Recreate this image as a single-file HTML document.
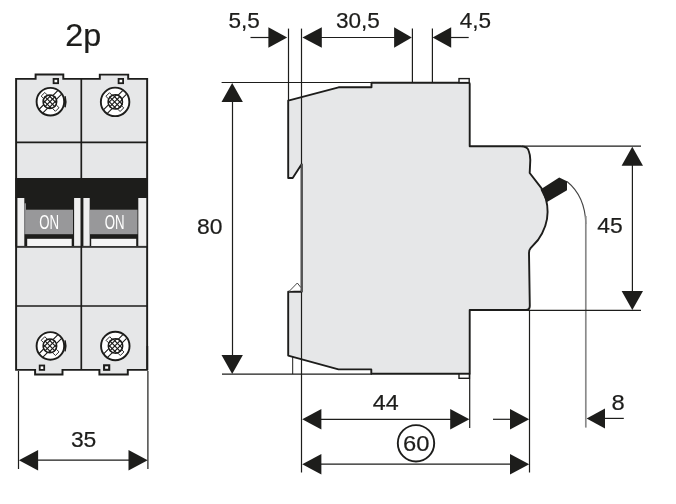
<!DOCTYPE html>
<html><head><meta charset="utf-8"><title>2p dimensions</title>
<style>
html,body{margin:0;padding:0;background:#fff;}
svg{display:block;}
text{font-family:"Liberation Sans",Arial,Helvetica,sans-serif;stroke-width:0.2px;}
svg{will-change:transform;}
</style></head><body>
<svg width="676" height="504" viewBox="0 0 676 504">
<defs>
<clipPath id="ring"><path d="M0,-13.6 A13.6,13.6 0 1 1 0,13.6 A13.6,13.6 0 1 1 0,-13.6 Z M-0.4,-7.3 A7.3,7.3 0 1 0 -0.4,7.3 A7.3,7.3 0 1 0 -0.4,-7.3 Z" clip-rule="evenodd"/></clipPath>
<clipPath id="inner"><circle cx="-0.5" r="7.3"/></clipPath>
<clipPath id="inner2"><circle cx="0.2" r="7.7"/></clipPath>
</defs>
<rect width="676" height="504" fill="#fff"/>

<text transform="translate(65.24,45.7) scale(1.03,1)" font-size="31.4" fill="#1d1d1b" stroke="#1d1d1b">2p</text>
<path d="M16.1,78.85 L35.6,78.85 L35.6,74.5 L63.3,74.5 L63.3,78.85 L99.8,78.85 L99.8,74.6 L128.2,74.6 L128.2,78.85 L147.15,78.85 L147.15,369.85 L127.8,369.85 L127.8,374.5 L99.4,374.5 L99.4,369.85 L62.5,369.85 L62.5,374.5 L35.1,374.5 L35.1,369.85 L16.1,369.85 Z" fill="#e6e7e8" stroke="#1d1d1b" stroke-width="1.95" stroke-linejoin="miter"/>
<path d="M147.4,346 L147.4,370" stroke="#1d1d1b" stroke-width="1.6" fill="none"/>
<path d="M81.3,78.85 L81.3,369.85" stroke="#1d1d1b" stroke-width="1.7" fill="none"/>
<path d="M16.1,142.3 L147.15,142.3" stroke="#1d1d1b" stroke-width="1.7" fill="none"/>
<path d="M16.1,247 L147.15,247" stroke="#1d1d1b" stroke-width="1.7" fill="none"/>
<path d="M16.1,306 L147.15,306" stroke="#1d1d1b" stroke-width="1.7" fill="none"/>
<rect x="15.400000000000002" y="178" width="132.45000000000002" height="20" fill="#1d1d1b"/>
<rect x="15.400000000000002" y="197" width="132.45000000000002" height="49.5" fill="#1d1d1b"/>
<rect x="17.4" y="198" width="6.90" height="47.9" fill="#efefef"/>
<rect x="74.1" y="198" width="6.40" height="47.9" fill="#efefef"/>
<rect x="83.4" y="198" width="6.30" height="47.9" fill="#efefef"/>
<rect x="138.3" y="198" width="8.00" height="47.9" fill="#efefef"/>
<rect x="25.9" y="209.7" width="47.10" height="24.5" fill="#98989a"/>
<rect x="27.2" y="238.8" width="44.50" height="7.2" fill="#f4f4f4"/>
<text transform="translate(49.2,228.5) scale(0.68,1)" font-size="19.5" text-anchor="middle" fill="#fff">ON</text>
<rect x="89.9" y="209.7" width="47.60" height="24.5" fill="#98989a"/>
<rect x="91.2" y="238.8" width="45.00" height="7.2" fill="#f4f4f4"/>
<text transform="translate(114.7,228.5) scale(0.68,1)" font-size="19.5" text-anchor="middle" fill="#fff">ON</text>
<rect x="24.3" y="203.3" width="1.7" height="30.9" fill="#8e8e90"/>
<rect x="53.6" y="78.9" width="4.5" height="4.3" fill="#fff" stroke="#1d1d1b" stroke-width="1.8"/>
<rect x="118.6" y="78.9" width="4.5" height="4.3" fill="#fff" stroke="#1d1d1b" stroke-width="1.8"/>
<rect x="39.7" y="365.5" width="4.5" height="4.4" fill="#fff" stroke="#1d1d1b" stroke-width="1.8"/>
<rect x="104.1" y="365.3" width="5.1" height="4.5" fill="#fff" stroke="#1d1d1b" stroke-width="2.1"/>
<g transform="translate(50.4,101.7)"><circle r="13.8" fill="#fff" stroke="#1d1d1b" stroke-width="1.9"/><path d="M14.6,-5.5 Q16.2,0 14.6,5.5" fill="none" stroke="#1d1d1b" stroke-width="1.6"/><g clip-path="url(#ring)" stroke="#1d1d1b" stroke-width="1.1" fill="none"><path d="M-20,16.3 L16.3,-20 M-16.3,20 L20,-16.3"/></g><g stroke="#2a2a2a" stroke-width="1" fill="none"><path d="M-6.8,-3.2 L-9.2,-5.6 L-5.6,-9.2 L-3.2,-6.8"/><path d="M6.2,3.6 L8.6,6 L5,9.6 L2.6,7.2"/></g><circle cx="-0.5" r="6.8" fill="#fff" stroke="#1d1d1b" stroke-width="1.5"/><g clip-path="url(#inner)" stroke="#1d1d1b" stroke-width="1.15" fill="none"><path d="M-22.9,-12 L1.0999999999999996,12 M-22.9,12 L1.0999999999999996,-12"/><path d="M-17.7,-12 L6.3,12 M-17.7,12 L6.3,-12"/><path d="M-12.5,-12 L11.5,12 M-12.5,12 L11.5,-12"/><path d="M-7.3,-12 L16.7,12 M-7.3,12 L16.7,-12"/><path d="M-2.0999999999999996,-12 L21.9,12 M-2.0999999999999996,12 L21.9,-12"/></g></g>
<g transform="translate(50.4,345.9)"><circle r="13.8" fill="#fff" stroke="#1d1d1b" stroke-width="1.9"/><path d="M14.6,-5.5 Q16.2,0 14.6,5.5" fill="none" stroke="#1d1d1b" stroke-width="1.6"/><g clip-path="url(#ring)" stroke="#1d1d1b" stroke-width="1.1" fill="none"><path d="M-20,16.3 L16.3,-20 M-16.3,20 L20,-16.3"/></g><g stroke="#2a2a2a" stroke-width="1" fill="none"><path d="M-6.8,-3.2 L-9.2,-5.6 L-5.6,-9.2 L-3.2,-6.8"/><path d="M6.2,3.6 L8.6,6 L5,9.6 L2.6,7.2"/></g><circle cx="-0.5" r="6.8" fill="#fff" stroke="#1d1d1b" stroke-width="1.5"/><g clip-path="url(#inner)" stroke="#1d1d1b" stroke-width="1.15" fill="none"><path d="M-22.9,-12 L1.0999999999999996,12 M-22.9,12 L1.0999999999999996,-12"/><path d="M-17.7,-12 L6.3,12 M-17.7,12 L6.3,-12"/><path d="M-12.5,-12 L11.5,12 M-12.5,12 L11.5,-12"/><path d="M-7.3,-12 L16.7,12 M-7.3,12 L16.7,-12"/><path d="M-2.0999999999999996,-12 L21.9,12 M-2.0999999999999996,12 L21.9,-12"/></g></g>
<g transform="translate(115.1,101.9)"><circle r="14.25" fill="#fff" stroke="#1d1d1b" stroke-width="1.9"/><g clip-path="url(#ring)" stroke="#1d1d1b" stroke-width="1.1" fill="none"><path d="M-20,16.3 L16.3,-20 M-16.3,20 L20,-16.3"/></g><g stroke="#2a2a2a" stroke-width="1" fill="none"><path d="M-6.8,-3.2 L-9.2,-5.6 L-5.6,-9.2 L-3.2,-6.8"/><path d="M6.2,3.6 L8.6,6 L5,9.6 L2.6,7.2"/></g><circle cx="0.2" r="7.2" fill="#fff" stroke="#1d1d1b" stroke-width="1.5"/><g clip-path="url(#inner2)" stroke="#1d1d1b" stroke-width="1.15" fill="none"><path d="M-22.9,-12 L1.0999999999999996,12 M-22.9,12 L1.0999999999999996,-12"/><path d="M-17.7,-12 L6.3,12 M-17.7,12 L6.3,-12"/><path d="M-12.5,-12 L11.5,12 M-12.5,12 L11.5,-12"/><path d="M-7.3,-12 L16.7,12 M-7.3,12 L16.7,-12"/><path d="M-2.0999999999999996,-12 L21.9,12 M-2.0999999999999996,12 L21.9,-12"/></g></g>
<g transform="translate(115.3,345.95)"><circle r="14.25" fill="#fff" stroke="#1d1d1b" stroke-width="1.9"/><g clip-path="url(#ring)" stroke="#1d1d1b" stroke-width="1.1" fill="none"><path d="M-20,16.3 L16.3,-20 M-16.3,20 L20,-16.3"/></g><g stroke="#2a2a2a" stroke-width="1" fill="none"><path d="M-6.8,-3.2 L-9.2,-5.6 L-5.6,-9.2 L-3.2,-6.8"/><path d="M6.2,3.6 L8.6,6 L5,9.6 L2.6,7.2"/></g><circle cx="0.2" r="7.2" fill="#fff" stroke="#1d1d1b" stroke-width="1.5"/><g clip-path="url(#inner2)" stroke="#1d1d1b" stroke-width="1.15" fill="none"><path d="M-22.9,-12 L1.0999999999999996,12 M-22.9,12 L1.0999999999999996,-12"/><path d="M-17.7,-12 L6.3,12 M-17.7,12 L6.3,-12"/><path d="M-12.5,-12 L11.5,12 M-12.5,12 L11.5,-12"/><path d="M-7.3,-12 L16.7,12 M-7.3,12 L16.7,-12"/><path d="M-2.0999999999999996,-12 L21.9,12 M-2.0999999999999996,12 L21.9,-12"/></g></g>
<path d="M18.5,371 L18.5,469" stroke="#1d1d1b" stroke-width="1.2" fill="none"/>
<path d="M147.9,371 L147.9,469" stroke="#1d1d1b" stroke-width="1.2" fill="none"/>
<path d="M30,460.2 L136,460.2" stroke="#1d1d1b" stroke-width="1.2" fill="none"/>
<path d="M18.9,460.2 L38.099999999999994,449.9 L38.099999999999994,470.5 Z" fill="#1d1d1b"/>
<path d="M147.7,460.2 L128.5,449.9 L128.5,470.5 Z" fill="#1d1d1b"/>
<text transform="translate(70.90,446.7) scale(1.04,1)" font-size="22" fill="#1d1d1b" stroke="#1d1d1b">35</text>
<path d="M301.6,164.2 L292.7,178 L288.2,178 L288.2,100.6 L338.6,87.3 L371.5,87.3 L371.5,82.7 L468.7,82.7 Q469.7,82.7 469.7,83.7 L469.7,146.2 L521,146.2 Q527.5,146.4 528.6,150.5 Q530.3,155 530.3,160 L529.7,173 L541.2,187.8 C545.5,195 547.6,203 547.6,212 C547.6,222 543.6,232 538,240 L530.6,248.2 Q529,250 529,253 L529.8,306 Q529.8,310 526,310 L469.7,310 L469.7,373.8 L371.3,373.8 L371.3,369.4 L338.5,369.4 L288.2,355.6 L288.2,291.8 L301.6,291.8 Z" fill="#e6e7e8" stroke="#1d1d1b" stroke-width="1.9" stroke-linejoin="round"/>
<path d="M289,291.5 L297.3,283 L301.3,288" fill="#fff" stroke="#333" stroke-width="0.9"/>
<rect x="459" y="78.6" width="10.2" height="4" fill="#fff" stroke="#1d1d1b" stroke-width="1.4"/>
<rect x="459" y="374" width="10.4" height="4.3" fill="#fff" stroke="#1d1d1b" stroke-width="1.4"/>
<path d="M301.9,164 L301.9,292" stroke="#555" stroke-width="2" fill="none"/>
<path d="M540.5,189.6 L559.2,177.5 L567,181.2 L567,190.2 L546.6,202.2 Z" fill="#1d1d1b"/>
<path d="M567,181.5 C575,188 585.3,200 585.8,224" fill="none" stroke="#444" stroke-width="1.1"/>
<path d="M585.8,216 L585.8,427.6" stroke="#8a8a8a" stroke-width="1.7" fill="none"/>
<path d="M288.5,28.6 L288.5,100" stroke="#1d1d1b" stroke-width="1.2" fill="none"/>
<path d="M301.5,28.6 L301.5,164" stroke="#1d1d1b" stroke-width="1.2" fill="none"/>
<path d="M301.5,292 L301.5,472.5" stroke="#1d1d1b" stroke-width="1.2" fill="none"/>
<path d="M412.4,28.6 L412.4,82" stroke="#1d1d1b" stroke-width="1.2" fill="none"/>
<path d="M432.4,28.6 L432.4,82" stroke="#1d1d1b" stroke-width="1.2" fill="none"/>
<path d="M250.5,37.5 L270,37.5" stroke="#1d1d1b" stroke-width="1.2" fill="none"/>
<path d="M287.2,37.5 L268.4,27.2 L268.4,47.8 Z" fill="#1d1d1b"/>
<path d="M302.4,37.5 L321.79999999999995,27.2 L321.79999999999995,47.8 Z" fill="#1d1d1b"/>
<path d="M320,37.5 L395,37.5" stroke="#1d1d1b" stroke-width="1.2" fill="none"/>
<path d="M411.8,37.5 L394.1,27.2 L394.1,47.8 Z" fill="#1d1d1b"/>
<path d="M432.6,37.5 L451.20000000000005,27.2 L451.20000000000005,47.8 Z" fill="#1d1d1b"/>
<path d="M450,37.5 L468.7,37.5" stroke="#1d1d1b" stroke-width="1.2" fill="none"/>
<text transform="translate(228.47,28.2) scale(1.04,1)" font-size="21.7" fill="#1d1d1b" stroke="#1d1d1b">5,5</text>
<text transform="translate(335.91,28.3) scale(1.04,1)" font-size="21.7" fill="#1d1d1b" stroke="#1d1d1b">30,5</text>
<text transform="translate(459.69,28.3) scale(1.04,1)" font-size="21.7" fill="#1d1d1b" stroke="#1d1d1b">4,5</text>
<path d="M221.6,82.5 L372,82.5" stroke="#1d1d1b" stroke-width="1.2" fill="none"/>
<path d="M222,374.1 L372,374.1" stroke="#1d1d1b" stroke-width="1.2" fill="none"/>
<path d="M292.7,357 L292.7,374.1" stroke="#1d1d1b" stroke-width="1" fill="none"/>
<path d="M232.5,100 L232.5,357" stroke="#1d1d1b" stroke-width="1.2" fill="none"/>
<path d="M232.2,83 L221.5,102 L242.89999999999998,102 Z" fill="#1d1d1b"/>
<path d="M232.2,374 L221.5,355 L242.89999999999998,355 Z" fill="#1d1d1b"/>
<text transform="translate(197.10,233.5) scale(1.04,1)" font-size="22" fill="#1d1d1b" stroke="#1d1d1b">80</text>
<path d="M522,146.2 L641,146.2" stroke="#1d1d1b" stroke-width="1.2" fill="none"/>
<path d="M526,310.4 L641,310.4" stroke="#1d1d1b" stroke-width="1.2" fill="none"/>
<path d="M632.4,163 L632.4,293" stroke="#1d1d1b" stroke-width="1.2" fill="none"/>
<path d="M632.3,146.8 L621.5999999999999,165.8 L643.0,165.8 Z" fill="#1d1d1b"/>
<path d="M632.3,310 L621.5999999999999,291 L643.0,291 Z" fill="#1d1d1b"/>
<text transform="translate(597.33,233.2) scale(1.04,1)" font-size="22" fill="#1d1d1b" stroke="#1d1d1b">45</text>
<path d="M469.7,373.8 L469.7,428" stroke="#1d1d1b" stroke-width="1.2" fill="none"/>
<path d="M529.5,310 L529.5,472.5" stroke="#1d1d1b" stroke-width="1.2" fill="none"/>
<path d="M320,419.3 L452,419.3" stroke="#1d1d1b" stroke-width="1.2" fill="none"/>
<path d="M302.2,419.3 L321.4,409.0 L321.4,429.6 Z" fill="#1d1d1b"/>
<path d="M469.4,419.3 L450.2,409.0 L450.2,429.6 Z" fill="#1d1d1b"/>
<text transform="translate(372.79,409.8) scale(1.04,1)" font-size="22.4" fill="#1d1d1b" stroke="#1d1d1b">44</text>
<path d="M493,419.3 L511,419.3" stroke="#1d1d1b" stroke-width="1.2" fill="none"/>
<path d="M529.2,419.3 L510.00000000000006,409.0 L510.00000000000006,429.6 Z" fill="#1d1d1b"/>
<path d="M586.6,418.6 L605.0,408.6 L605.0,428.6 Z" fill="#1d1d1b"/>
<path d="M604,418.4 L623.8,418.4" stroke="#1d1d1b" stroke-width="1.2" fill="none"/>
<text transform="translate(611.42,409.6) scale(1.08,1)" font-size="22" fill="#1d1d1b" stroke="#1d1d1b">8</text>
<path d="M320,464.2 L511,464.2" stroke="#1d1d1b" stroke-width="1.2" fill="none"/>
<path d="M302.2,464.2 L321.4,453.9 L321.4,474.5 Z" fill="#1d1d1b"/>
<path d="M529.2,464.2 L510.00000000000006,453.9 L510.00000000000006,474.5 Z" fill="#1d1d1b"/>
<circle cx="416" cy="443.3" r="18.2" fill="#fff" stroke="#1d1d1b" stroke-width="1.9"/>
<text transform="translate(402.99,450.5) scale(1.08,1)" font-size="22" fill="#1d1d1b" stroke="#1d1d1b">60</text>
</svg></body></html>
